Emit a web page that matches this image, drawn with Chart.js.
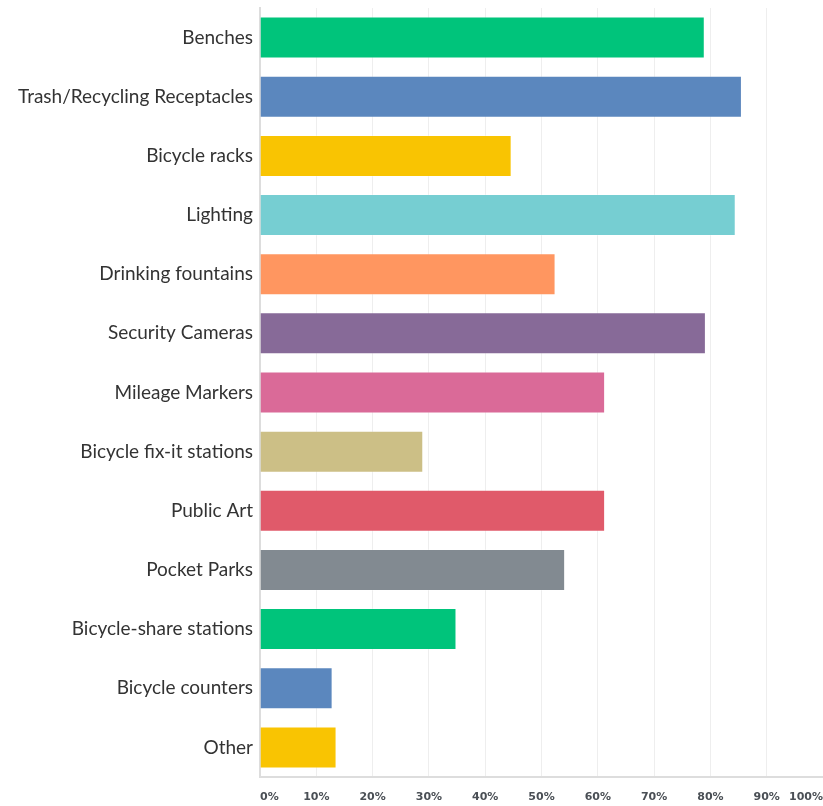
<!DOCTYPE html>
<html>
<head>
<meta charset="utf-8">
<script src="https://cdn.jsdelivr.net/npm/chart.js@4/dist/chart.umd.min.js"></script>
<style>
  html, body { margin: 0; padding: 0; background: #fff; overflow: hidden; }
  #wrap { width: 823px; height: 806px; }
</style>
</head>
<body>
<div id="wrap"><canvas id="chart" width="823" height="806"></canvas></div>
<script>
const categories = [
  "Benches",
  "Trash/Recycling Receptacles",
  "Bicycle racks",
  "Lighting",
  "Drinking fountains",
  "Security Cameras",
  "Mileage Markers",
  "Bicycle fix-it stations",
  "Public Art",
  "Pocket Parks",
  "Bicycle-share stations",
  "Bicycle counters",
  "Other"
];

const percentages = [79.0, 85.6, 44.7, 84.5, 52.5, 79.2, 61.3, 29.0, 61.3, 54.2, 34.9, 12.9, 13.6];

const tickValues = [0, 10, 20, 30, 40, 50, 60, 70, 80, 90, 100];

const palette = ["#00c47b", "#5b87be", "#f9c402", "#76ced2", "#ff9660", "#876a98", "#da6a98", "#ccbf86", "#e05a6a", "#828a91"];
const barColors = categories.map((c, i) => palette[i % palette.length]);

// no extra padding around the scales, sizes are fixed
function noPadding(scale) {
  scale.paddingTop = 0;
  scale.paddingBottom = 0;
  scale.paddingLeft = 0;
  scale.paddingRight = 0;
}

const ctx = document.getElementById("chart").getContext("2d");
new Chart(ctx, {
  type: "bar",
  data: {
    labels: categories,
    datasets: [
      {
        data: percentages,
        backgroundColor: barColors,
        borderColor: "rgba(255,255,255,0.25)",
        borderWidth: 1,
        barPercentage: 0.71,
        categoryPercentage: 1
      }
    ]
  },
  options: {
    indexAxis: "y",
    responsive: false,
    animation: false,
    layout: { padding: { top: 8, right: 0, left: 0, bottom: 0 } },
    plugins: {
      legend: { display: false },
      tooltip: { enabled: false }
    },
    scales: {
      x: {
        min: 0,
        max: 100,
        afterBuildTicks: (scale) => {
          scale.ticks = tickValues.map((v) => ({ value: v }));
        },
        afterFit: (scale) => {
          scale.height = 29;
          noPadding(scale);
        },
        grid: {
          drawTicks: false,
          color: (c) => (c.tick && c.tick.value === 100 ? "rgba(0,0,0,0)" : "#eeeeee"),
          lineWidth: 1
        },
        border: { color: "#dddddd", width: 2 },
        ticks: {
          align: "inner",
          padding: 14,
          color: "#4a4f55",
          font: { family: "DejaVu Sans", size: 11, weight: "bold" },
          callback: (v) => v + "%"
        }
      },
      y: {
        afterFit: (scale) => {
          scale.width = 260;
          noPadding(scale);
        },
        grid: { display: false, drawTicks: false },
        border: { color: "#dddddd", width: 2 },
        ticks: {
          padding: 7,
          color: "#333333",
          font: { family: "Lato", size: 19 }
        }
      }
    }
  }
});
</script>
</body>
</html>
